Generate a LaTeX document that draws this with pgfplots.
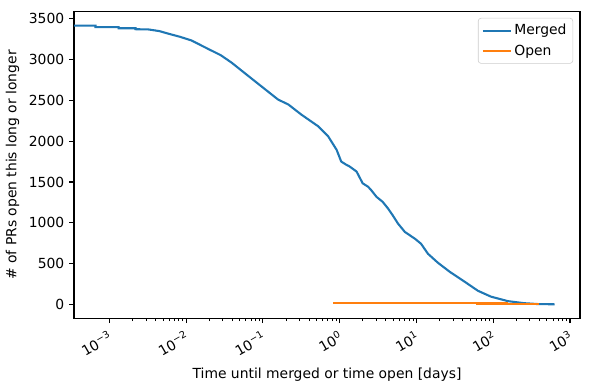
\documentclass[border=0pt]{standalone}
\usepackage{pgfplots}
\pgfplotsset{compat=1.18}
\usepackage{fontspec}
\setmainfont{DejaVu Sans}
\definecolor{tabblue}{HTML}{1F77B4}
\definecolor{taborange}{HTML}{FF7F0E}
\begin{document}
\begin{tikzpicture}
\begin{axis}[
  name=ax,
  scale only axis,
  width=364.3pt, height=220.8pt,
  xmode=log,
  xmin=3.47e-4, xmax=1349,
  ymin=-171, ymax=3588,
  xtick={1e-3,1e-2,1e-1,1,10,100,1000},
  xticklabels={10\textsuperscript{−3},10\textsuperscript{−2},10\textsuperscript{−1},10\textsuperscript{0},10\textsuperscript{1},10\textsuperscript{2},10\textsuperscript{3}},
  ytick={0,500,1000,1500,2000,2500,3000,3500},
  /pgf/number format/assume math mode=true,
  /pgf/number format/1000 sep={},
  tick align=outside,
  tick pos=left,
  major tick length=3.5pt,
  minor tick length=2pt,
  every tick/.style={black, line width=0.8pt},
  minor tick style={line width=0.6pt},
  axis line style={line width=0.8pt},
  xticklabel style={rotate=30, anchor=north east, font=\fontsize{10}{12}\selectfont},
  yticklabel style={font=\fontsize{10}{12}\selectfont},
  label style={font=\fontsize{10}{12}\selectfont},
  xlabel={Time until merged or time open [days]},
  ylabel={\# of PRs open this long or longer},
  legend style={at={(1,1)}, anchor=north east, xshift=-5pt, yshift=-4.5pt,
    draw=black!20, rounded corners=2pt, fill=white,
    font=\fontsize{10}{12}\selectfont, inner sep=2.5pt, row sep=1.5pt},
  legend cell align=left,
  legend image code/.code={\draw[#1] (0pt,0pt) -- (20pt,0pt);},
]
\addplot[tabblue, line width=1.5pt] coordinates {
(2.5e-4,3417) (6.6e-4,3417) (6.6e-4,3398) (1.32e-3,3398) (1.32e-3,3385)
(2.19e-3,3385) (2.19e-3,3373) (3.24e-3,3370) (4.47e-3,3350) (5.89e-3,3318)
(8.32e-3,3280) (1.175e-2,3235) (1.95e-2,3130) (2.82e-2,3055) (3.89e-2,2965)
(7.08e-2,2770) (0.158,2510) (0.214,2451) (0.316,2327) (0.525,2183)
(0.708,2060) (0.912,1895) (1.047,1751) (1.202,1715) (1.349,1690)
(1.660,1628) (1.995,1484) (2.344,1442) (2.570,1401) (3.020,1318)
(3.631,1257) (4.266,1175) (4.898,1093) (5.754,990) (7.079,887)
(9.550,805) (11.48,743) (14.13,620) (19.05,510) (27.54,395)
(43.65,270) (63.10,167) (93.33,95) (154.9,40) (251.2,15)
(380.2,4) (631.0,1)
};
\addlegendentry{Merged}
\addplot[taborange, line width=1.5pt, const plot] coordinates {
(0.83,22) (61.7,11) (151,2) (398,2)
};
\addlegendentry{Open}
\end{axis}
\pgfresetboundingbox
\path (ax.south west) ++(-53.3pt,-51.6pt) rectangle ++(424.8pt,280.8pt);
\end{tikzpicture}
\end{document}
